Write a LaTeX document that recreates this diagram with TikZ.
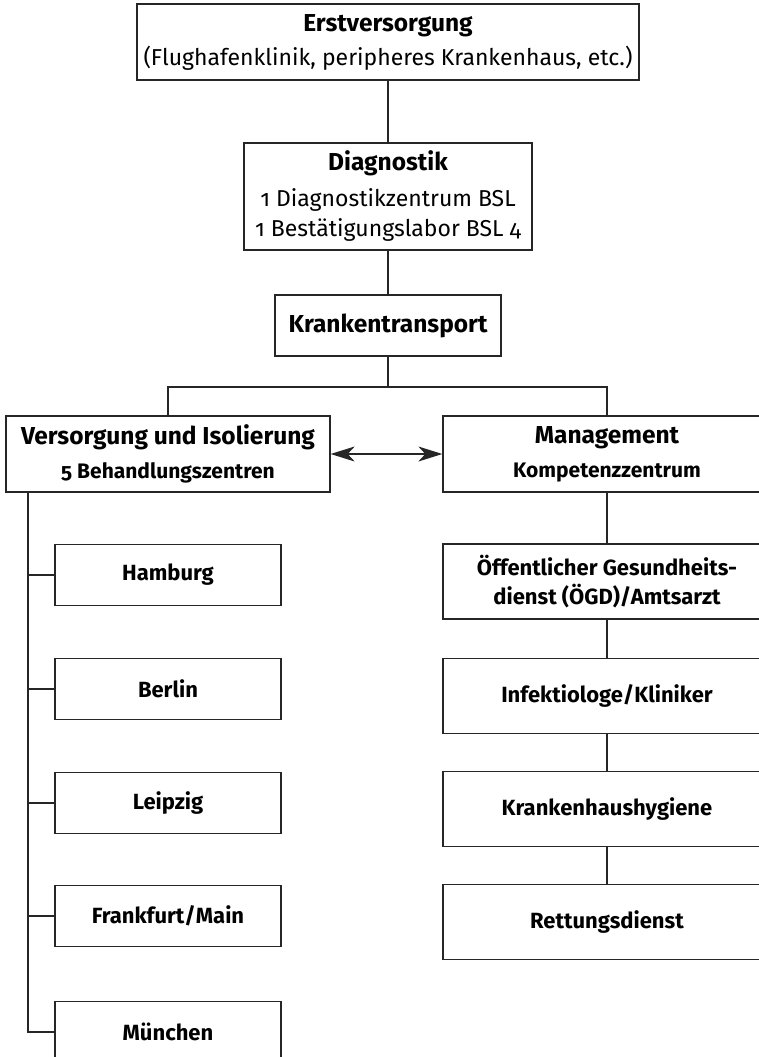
\documentclass[tikz,border=0pt]{standalone}
\usepackage{fontspec}
\setmainfont{Fira Sans}[Numbers=OldStyle]
\usetikzlibrary{arrows.meta}
\begin{document}
\begin{tikzpicture}[x=1pt,y=-1pt,
  box/.style={draw=black!85, line width=1.3pt, fill=white, inner sep=0pt, align=center},
  conn/.style={draw=black!85, line width=1.3pt},
  big/.style={font=\fontsize{24.5}{30}\selectfont\bfseries},
  lbl/.style={font=\fontsize{22}{29}\selectfont\bfseries},
  citybox/.style={box, lbl, minimum width=226pt, minimum height=61pt},
  rbox/.style={box, lbl, minimum width=328pt, minimum height=75pt}]
\useasboundingbox (0,0) rectangle (759,1057);
\clip (0,0) rectangle (759,1057);

\node[box, font=\fontsize{23}{30}\selectfont, minimum width=502pt, minimum height=76pt] (erst) at (388,42)
  {{\fontsize{24.5}{30}\selectfont\bfseries Erstversorgung}\\[4pt]
   (Flughafenklinik, peripheres Krankenhaus, etc.)};
\node[box, font=\fontsize{23}{30}\selectfont, minimum width=288pt, minimum height=107pt] (diag) at (388,196.5)
  {{\fontsize{24.5}{30}\selectfont\bfseries Diagnostik}\\[6pt]
   1 Diagnostikzentrum BSL\\
   1 Bestätigungslabor BSL 4};
\node[box, big, minimum width=226pt, minimum height=61pt] (kt) at (388,325.5) {Krankentransport};

\node[box, font=\fontsize{21}{30}\selectfont\bfseries, minimum width=324pt, minimum height=76pt] (vers) at (168,454)
  {{\fontsize{24.5}{30}\selectfont Versorgung und Isolierung}\\[4pt]
   5 Behandlungszentren};
\node[box, font=\fontsize{21}{30}\selectfont\bfseries, minimum width=328pt, minimum height=76pt] (mgmt) at (607,454)
  {{\fontsize{24.5}{30}\selectfont Management}\\[4pt]
   Kompetenzzentrum};

\node[citybox] (ham) at (168,575) {Hamburg};
\node[citybox] (ber) at (168,689) {Berlin};
\node[citybox] (lei) at (168,803) {Leipzig};
\node[citybox] (fra) at (168,916) {Frankfurt/Main};
\node[citybox] (muc) at (168,1032) {München};

\node[rbox] (oegd) at (607,581.5) {Öffentlicher Gesundheits-\\dienst (ÖGD)/Amtsarzt};
\node[rbox] (inf) at (607,696) {Infektiologe/Kliniker};
\node[rbox] (hyg) at (607,809) {Krankenhaushygiene};
\node[rbox] (ret) at (607,922) {Rettungsdienst};

\coordinate (split) at (388,387);
\coordinate (tx) at (28,0);

\draw[conn] (erst.south) -- (diag.north);
\draw[conn] (diag.south) -- (kt.north);
\draw[conn] (kt.south) -- (split);
\draw[conn] (vers.north) |- (split) -| (mgmt.north);
\draw[conn, {Stealth[length=24pt,width=15pt,inset=7pt]}-{Stealth[length=24pt,width=15pt,inset=7pt]}] (vers.east) -- (mgmt.west);

\draw[conn] (vers.south -| tx) |- (muc.west);
\draw[conn] (ham.west) -- (ham.west -| tx);
\draw[conn] (ber.west) -- (ber.west -| tx);
\draw[conn] (lei.west) -- (lei.west -| tx);
\draw[conn] (fra.west) -- (fra.west -| tx);

\draw[conn] (mgmt.south) -- (oegd.north);
\draw[conn] (oegd.south) -- (inf.north);
\draw[conn] (inf.south) -- (hyg.north);
\draw[conn] (hyg.south) -- (ret.north);
\end{tikzpicture}
\end{document}
